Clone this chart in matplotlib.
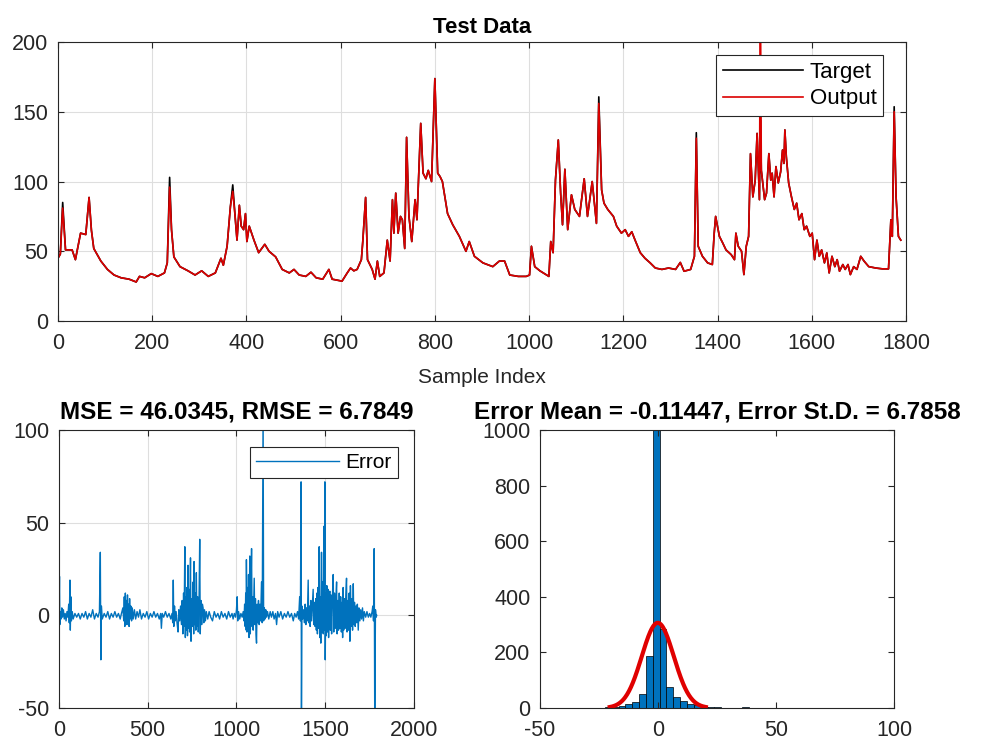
import numpy as np
import matplotlib
matplotlib.use("Agg")
import matplotlib.pyplot as plt

# ---- target series (sample index, value) ----
tgt_idx = [0, 5, 10, 16, 23, 30, 37, 48, 59, 66, 71, 76, 91, 105, 119, 134, 151, 166, 173, 184,
           198, 212, 226, 232, 237, 241, 246, 259, 276, 291, 305, 319, 334, 346, 351, 359, 366, 371,
           376, 380, 385, 389, 394, 398, 401, 406, 416, 426, 439, 448, 462, 476, 491, 501, 512, 526,
           537, 548, 562, 575, 582, 603, 614, 621, 628, 635, 644, 647, 653, 657, 667, 673, 678, 683,
           692, 699, 705, 710, 713, 717, 722, 727, 731, 736, 740, 745, 751, 758, 762, 770, 775, 781,
           786, 793, 800, 806, 811, 816, 827, 838, 852, 866, 873, 884, 902, 923, 937, 948, 959, 977,
           994, 1001, 1005, 1012, 1023, 1037, 1042, 1046, 1051, 1056, 1062, 1067, 1071, 1076, 1082,
           1090, 1097, 1107, 1117, 1124, 1134, 1143, 1148, 1154, 1159, 1167, 1179, 1186, 1196, 1204,
           1211, 1218, 1225, 1236, 1246, 1257, 1268, 1282, 1296, 1311, 1321, 1329, 1343, 1351, 1355,
           1359, 1368, 1379, 1389, 1393, 1396, 1404, 1411, 1418, 1429, 1436, 1439, 1444, 1451, 1456,
           1461, 1466, 1470, 1475, 1480, 1484, 1489, 1491, 1493, 1500, 1504, 1509, 1513, 1516, 1520,
           1524, 1529, 1534, 1538, 1541, 1543, 1546, 1551, 1557, 1563, 1568, 1573, 1579, 1584, 1589,
           1596, 1601, 1606, 1611, 1616, 1621, 1627, 1632, 1637, 1643, 1649, 1654, 1659, 1666, 1671,
           1677, 1682, 1689, 1696, 1704, 1711, 1721, 1736, 1750, 1763, 1768, 1771, 1775, 1779, 1784,
           1789]
tgt_val = [45, 48, 85, 51, 51, 51, 44, 63, 62, 88.6, 65, 52, 43, 37, 33, 31, 30, 28, 32, 31,
           34, 32, 34.5, 41.7, 103, 65.5, 46, 39, 36, 33, 36, 32, 34.5, 45, 40, 53.6, 82, 97.6,
           75, 58, 83, 68, 65.5, 77, 57, 68, 58, 49, 55, 50, 46, 37, 34.5, 37, 33, 32,
           35, 31, 30, 37, 30, 28.6, 34.5, 38, 36, 37, 44, 57, 88.6, 44, 37, 30, 43, 32,
           34.5, 58, 43, 87, 63, 91.7, 63, 75, 72.6, 52, 131.7, 75, 57, 87, 72.6, 141.7, 106, 102,
           108, 100, 173.8, 106, 103.6, 100, 77, 69, 60.7, 50, 57, 46.4, 41.7, 39, 43, 43, 33, 32,
           32, 33, 53.6, 39, 36, 33, 32, 57, 49, 101, 129.8, 91.7, 69, 108.8, 65.5,
           90.5, 80, 75, 102, 75, 100, 70, 160.7, 94, 84.5, 80, 75, 68, 63, 65.5,
           60.7, 64, 58, 49, 45, 41.7, 38, 37, 38, 37, 42, 35.7, 37, 46.4, 135,
           53.6, 46.4, 41.7, 40.5, 63, 75, 60.7, 56, 51, 47.6, 44, 63, 53.6, 50, 33.3,
           53.6, 60.7, 120, 89, 101, 134.5, 87, 144, 108, 87, 91.7, 120, 101, 106, 89,
           110.7, 99, 107, 122.6, 113, 137, 118, 99, 89, 80, 84.5, 72.6, 77, 65.5, 68,
           60.7, 63, 44, 58, 46.4, 51, 41.7, 48.8, 34.5, 46.4, 39, 44, 35.7, 40.5, 37,
           40.5, 33.3, 39, 37, 46.4, 43, 39, 38, 37.4, 37.4, 72.6, 60.7, 153.6, 89, 60.7,
           58]

# output follows the target except at these samples
out_fix_idx = [10, 237, 371, 1148, 1355, 1491, 1775]
out_fix_val = [81, 96, 93, 156, 131, 240, 150]

# ---- error series (sample index, value) ----
err_idx = [0, 3, 5, 8, 12, 16, 20, 25, 30, 35, 40, 45, 50, 55, 58, 62, 64, 67, 70, 75, 80, 90,
           100, 110, 120, 130, 140, 150, 160, 170, 180, 190, 200, 210, 220, 228, 233, 236, 239, 244,
           255, 265, 275, 285, 295, 305, 315, 325, 335, 345, 352,
           360, 365, 368, 371, 374, 377, 380, 383, 386, 389, 392, 395, 398, 401, 405, 409, 413, 418,
           425, 432, 440, 448, 456, 465, 475, 485, 495, 505, 515, 525, 535, 545, 555, 565, 573, 577,
           582, 590, 600, 610, 620, 630, 637,
           641, 644, 647, 651, 655, 660, 665, 671, 675, 680, 685, 690, 694, 698, 702, 705, 709, 712,
           715, 718, 721, 724, 727, 730, 733, 736, 741, 744, 748, 752, 756, 759, 761, 764, 768, 771,
           774, 777, 781, 785, 789, 793, 796, 800, 804, 808, 812, 816, 820, 825, 830,
           838, 846, 855, 865, 875, 885, 895, 905, 915, 925, 935, 945, 955, 965, 975, 981, 988, 995,
           1000, 1004, 1007, 1012, 1018, 1025, 1032, 1038,
           1042, 1046, 1049, 1052, 1055, 1056, 1059, 1062, 1065, 1068, 1071, 1075, 1078, 1082, 1085,
           1088, 1091, 1094, 1097, 1100, 1103, 1107, 1110, 1113, 1116, 1120, 1124, 1128, 1132, 1136,
           1141, 1145, 1150, 1153, 1157, 1161, 1165, 1169, 1175, 1182, 1190, 1197,
           1205, 1212, 1220, 1226, 1232, 1240, 1250, 1260, 1270, 1280, 1290, 1300, 1310, 1320, 1328,
           1336, 1344, 1350, 1356, 1360, 1364, 1366, 1369, 1373, 1378,
           1383, 1387, 1391, 1395, 1399, 1404, 1407, 1411, 1415, 1419, 1423, 1428, 1432, 1435, 1439,
           1443, 1447,
           1450, 1453, 1456, 1459, 1462, 1466, 1469, 1472, 1475, 1479, 1482, 1486, 1489, 1492, 1495,
           1498, 1500, 1503, 1506, 1509, 1512, 1516, 1519, 1522, 1526, 1529, 1532, 1536, 1540, 1545,
           1548, 1552, 1556, 1560, 1564, 1567, 1571, 1575, 1579, 1583, 1587, 1591, 1595, 1598, 1601,
           1604, 1608, 1612, 1616, 1620, 1623, 1627, 1631, 1635, 1639, 1642, 1646, 1650, 1654, 1658,
           1661, 1665, 1669, 1673, 1677, 1681, 1686, 1690, 1695, 1700, 1705, 1710, 1715, 1720,
           1728, 1735, 1743, 1750, 1757, 1764, 1768, 1772, 1776, 1779, 1783, 1787, 1790]
err_val = [-3, 21, -5, 2, -2, 4, -1, 3, -2, 1, -3, 2, -1, 6, -4, 19, -8, 10, -3, 2, -2, 1,
           -1, 1, -2, 1, -1, 2, -2, 1, -1, 3, -2, 1, -1, 2, 34, -24, 5, -2,
           1, -1, 2, -2, 1, -1, 2, -1, 1, -2, 1,
           4, -3, 10, -6, 12, -4, 8, -5, 11, -3, 6, -6, 9, -2, 5, -3, 4, -2,
           3, -2, 2, -1, 3, -2, 1, -1, 2, -2, 1, -1, 2, -1, 1, -2, 1, -7,
           1, -1, 2, -1, 1, -2, 1,
           -4, 19, -6, 5, -3, 2, -4, -9, 3, -3, 5, -5, 8, -10, 12, -6, 37, -12,
           10, -8, 15, -11, 27, -7, 14, -9, 31, -14, 9, -6, 18, -10, 29, -5, 12, -8,
           23, -6, 10, -9, 7, 41, -10, 8, -5, 6, 4, -4, 3, -3, 2,
           -2, 2, -1, -3, 2, -1, 1, -2, 2, -1, 1, -2, 2, -1, 1, -2, 1, -1,
           3, 10, -3, 2, -2, 1, -1, 2,
           -3, 6, -6, 12, -8, 30, -9, 15, -7, 22, -12, 32, -10, 14, 36,
           -6, 10, -8, 7, 20, -5, 9, -10, -15, 6, -4, 8, -5, 6, -3,
           18, -4, 110, -3, 4, -2, 3, -1, 2, -2, 2, -1,
           2, -2, 1, -5, 2, -1, 2, -2, 1, -1, 2, -1, 1, -3, 1,
           -1, 2, -2, 10, -3, 72, -60, 5, -2, 3,
           -4, 6, -5, 4, -3, 19, -4, 5, -6, 8, -3, 6, 14, -5, 7,
           -6, 9,
           -8, 12, -10, 15, -7, 37, -12, 10, -15, 34, -9, 18, -10, 48, -8,
           72, -24, 12, -11, 16, -9, 14, -12, 10, 13, -8, 11, -10, 9, 22,
           -9, 12, -7, 9, 18, -10, 8, -8, 12, -7, 10, -9, 7, -12, 15,
           -8, 9, -7, 11, 20, -9, 8, -8, 12, -14, 16, -6, 9, -8, 17,
           -5, 7, -6, 5, -4, 6, -8, 4, -3, 3, -2, 4, -3, 2,
           -1, 2, -1, 1, -1, 2, 5, -3, 36, -60, 3, -1, 0]

# ---- error histogram (bin centres, counts) ----
hist_centers = [-48.9, -24.0, -21.1, -18.2, -15.3, -12.4, -9.5, -6.6, -3.7, -0.8, 2.1, 5.0, 7.9,
                10.8, 13.7, 16.6, 19.5, 22.4, 25.3, 28.2, 31.1, 34.0, 36.9, 46.6, 70.8, 98.0]
hist_counts = [1, 1, 2, 3, 7, 14, 23, 49, 187, 1040, 285, 74, 41, 26, 16, 9, 5, 3, 2, 1, 1, 1, 2,
               1, 1, 1]
hist_width = 2.9

err_mean = -0.11447
err_std = 6.7858
mse = 46.0345
rmse = 6.7849

plt.rcParams['font.family'] = ['Liberation Sans', 'DejaVu Sans']
plt.rcParams['axes.unicode_minus'] = False
TXT = '#262626'

fig = plt.figure(figsize=(9.81, 7.44), dpi=100)


def style_axes(ax, grid=True):
    for s in ax.spines.values():
        s.set_color(TXT)
        s.set_linewidth(0.8)
    ax.tick_params(direction='in', top=True, right=True, length=4, width=0.8,
                   colors=TXT, labelsize=15.5)
    ax.tick_params(axis='x', pad=8.5)
    ax.tick_params(axis='y', pad=7)
    if grid:
        ax.grid(True, color='#dedede', linewidth=0.8)
        ax.set_axisbelow(True)


# top panel
ax1 = fig.add_axes([0.0591, 0.5685, 0.8644, 0.375])
out_val = list(tgt_val)
for i, v in zip(out_fix_idx, out_fix_val):
    out_val[tgt_idx.index(min(tgt_idx, key=lambda t: abs(t - i)))] = v
ax1.plot(tgt_idx, tgt_val, color='black', linewidth=1.2, label='Target')
ax1.plot(tgt_idx, out_val, color='#dc0000', linewidth=1.2, label='Output')
ax1.set_xlim(0, 1800)
ax1.set_ylim(0, 200)
ax1.set_xticks(range(0, 1801, 200))
ax1.set_yticks(range(0, 201, 50))
style_axes(ax1)
ax1.set_title('Test Data', fontsize=16, fontweight='bold', pad=6.5)
ax1.set_xlabel('Sample Index', fontsize=15, color=TXT, labelpad=10)
leg1 = ax1.legend(loc='upper right', bbox_to_anchor=(0.973, 0.953), borderaxespad=0,
                  fontsize=16, handlelength=3.6, fancybox=False, framealpha=1, edgecolor=TXT,
                  borderpad=0.3, labelspacing=0.25, handletextpad=0.3)
leg1.get_frame().set_linewidth(0.8)

# error vs sample
ax2 = fig.add_axes([0.0601, 0.0484, 0.3619, 0.3737])
ax2.plot(err_idx, err_val, color='#0072BD', linewidth=1.0, label='Error')
ax2.set_xlim(0, 2000)
ax2.set_ylim(-50, 100)
ax2.set_xticks(range(0, 2001, 500))
ax2.set_yticks([-50, 0, 50, 100])
style_axes(ax2)
ax2.set_title(f'MSE = {mse}, RMSE = {rmse}', fontsize=17.5, fontweight='bold', pad=8.5)
leg2 = ax2.legend(loc='upper right', bbox_to_anchor=(0.955, 0.939), borderaxespad=0,
                  fontsize=15, handlelength=4.0, fancybox=False, framealpha=1, edgecolor=TXT,
                  borderpad=0.3, handletextpad=0.3)
leg2.get_frame().set_linewidth(0.8)

# histogram of errors with normal fit
ax3 = fig.add_axes([0.5505, 0.0484, 0.3609, 0.3737])
ax3.bar(hist_centers, hist_counts, width=hist_width, color='#0072BD',
        edgecolor='black', linewidth=0.5)
xs = np.linspace(err_mean - 3 * err_std, err_mean + 3 * err_std, 200)
scale = sum(hist_counts) * hist_width / (err_std * np.sqrt(2 * np.pi))
ax3.plot(xs, scale * np.exp(-0.5 * ((xs - err_mean) / err_std) ** 2), color='#e00000', linewidth=3)
ax3.set_xlim(-50, 100)
ax3.set_ylim(0, 1000)
ax3.set_xticks([-50, 0, 50, 100])
ax3.set_yticks(range(0, 1001, 200))
style_axes(ax3, grid=False)
ax3.set_title(f'Error Mean = {err_mean}, Error St.D. = {err_std}', fontsize=17.5,
              fontweight='bold', pad=8.5)

fig.savefig('out.png', dpi=100)
